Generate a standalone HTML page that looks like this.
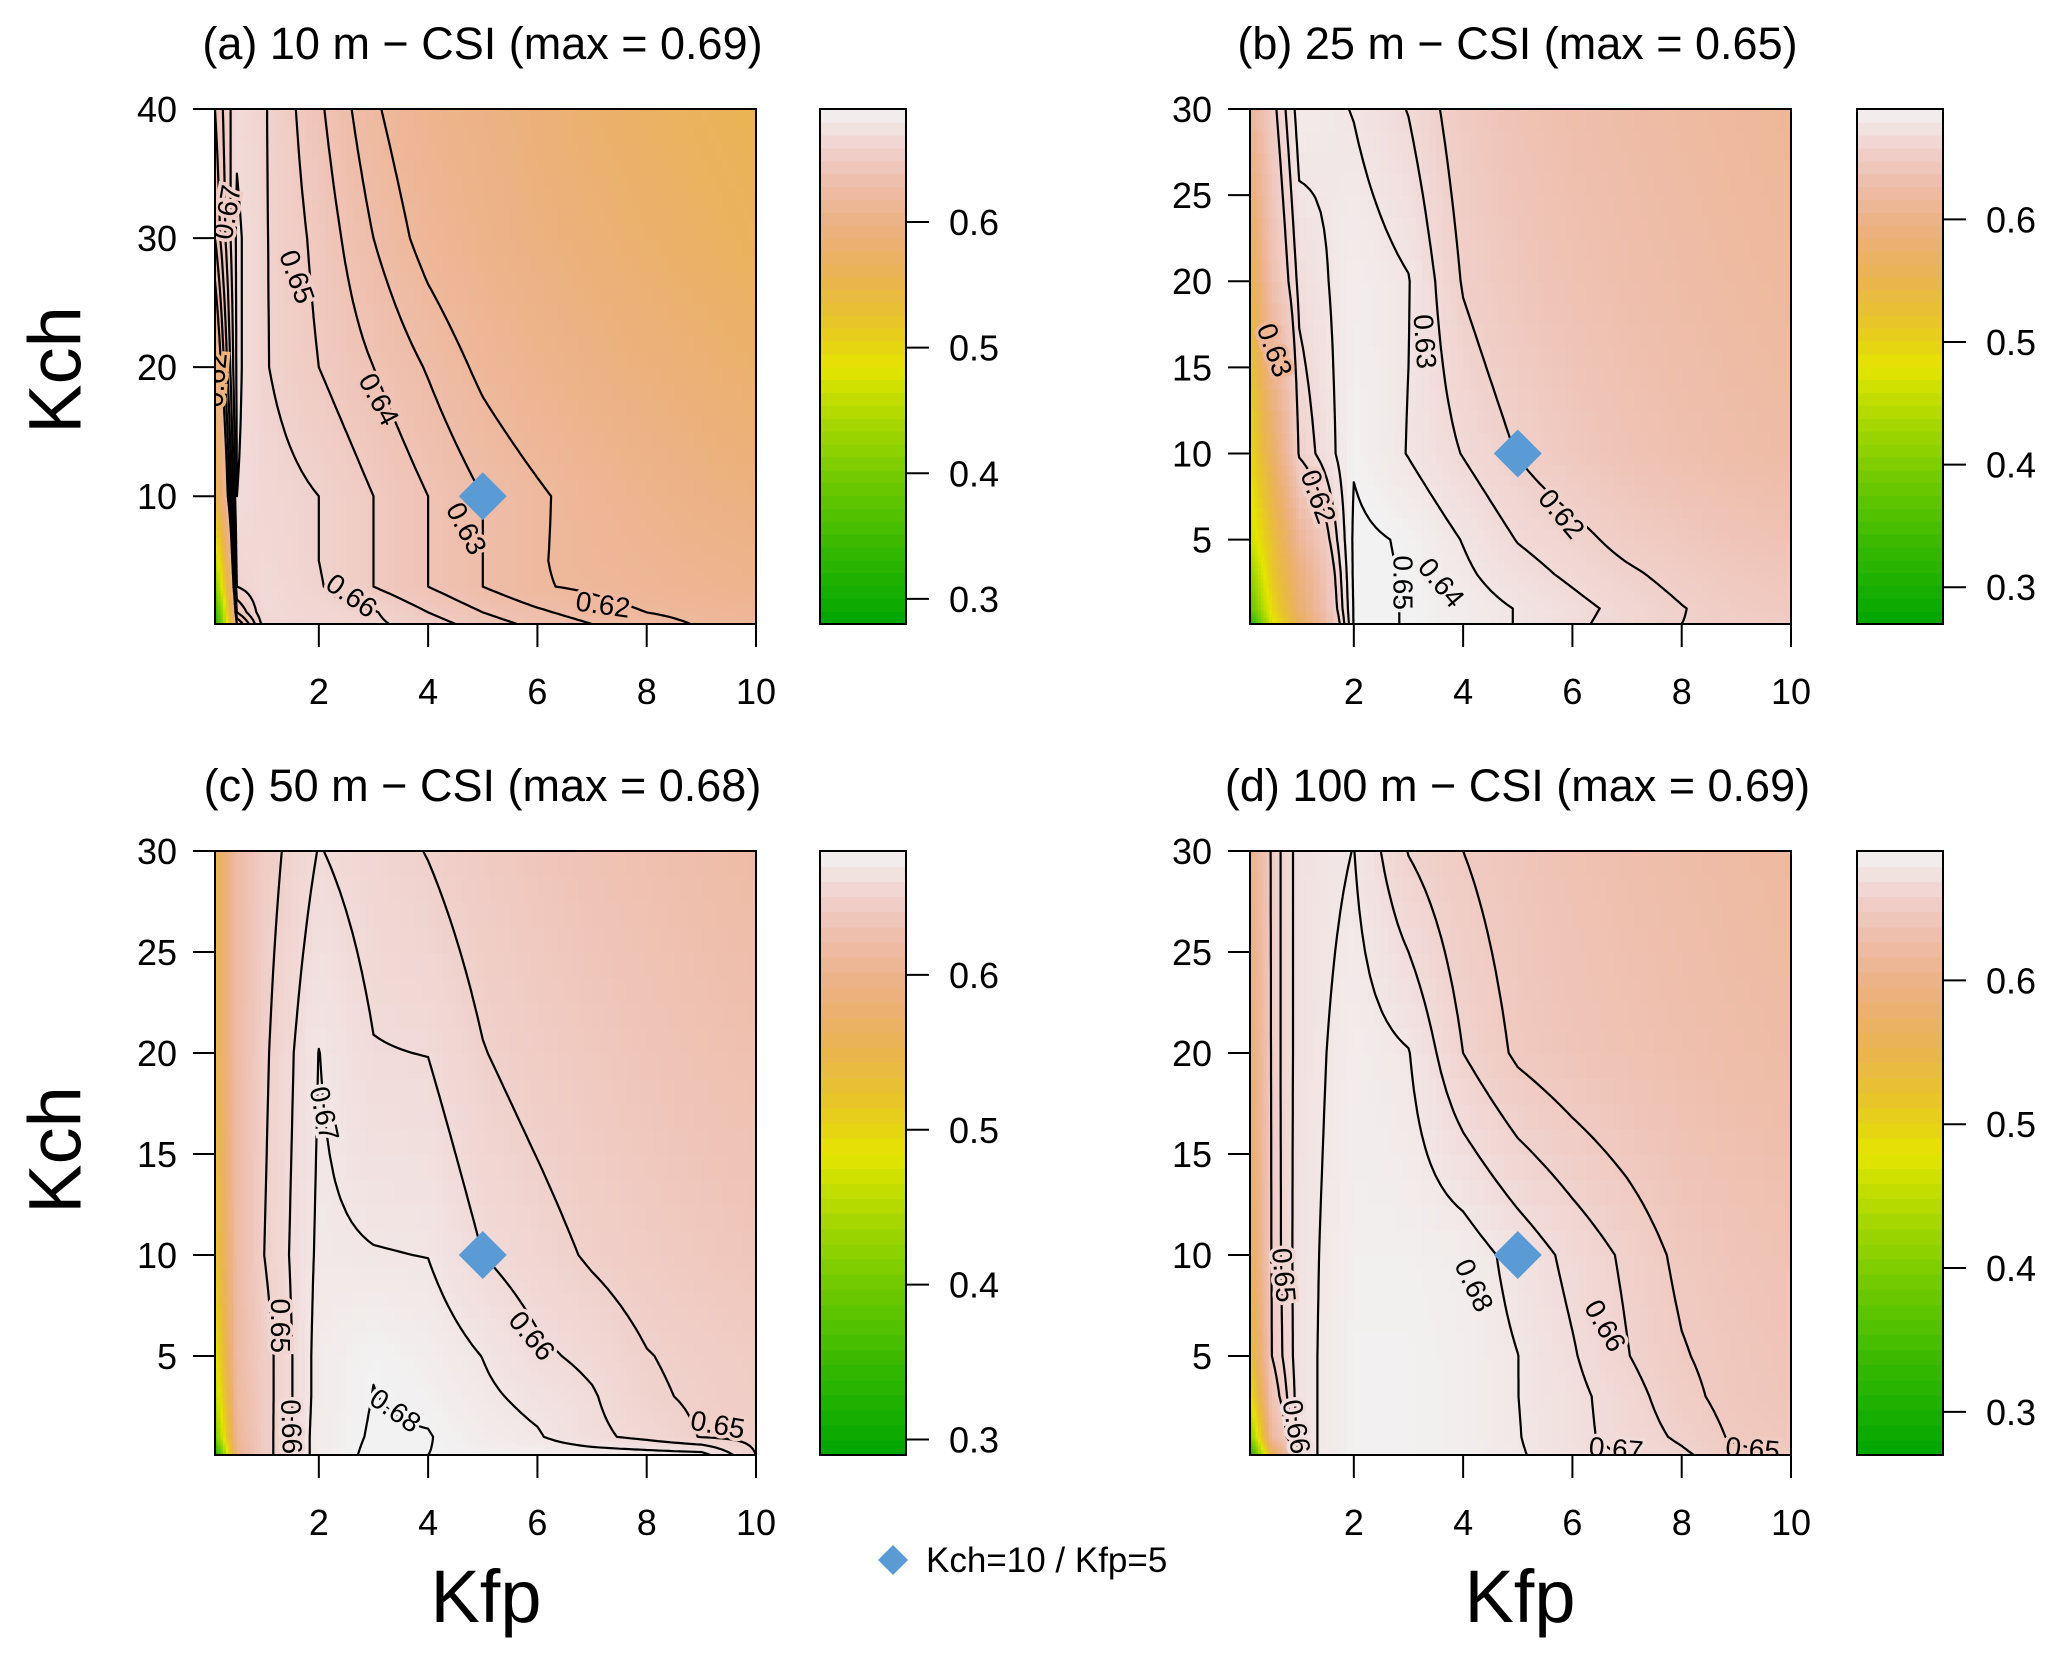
<!DOCTYPE html>
<html><head><meta charset="utf-8"><title>CSI contour panels</title>
<style>
html,body{margin:0;padding:0;background:#fff;}
svg{display:block;font-family:"Liberation Sans",Arial,sans-serif;}
</style></head>
<body>
<svg id="fig" xmlns="http://www.w3.org/2000/svg" width="2067" height="1657" viewBox="0 0 2067 1657">
<rect x="0" y="0" width="2067" height="1657" fill="#ffffff"/>
</svg>
<script>
// ---- data ----
const kfp = [0.1,0.5,1,2,3,4,5,6,7,8,9,10];
const kchA = [0.1,1,3,5,10,20,30,40];
const kchB = [0.1,1,3,5,10,20,30];
const csiA = [
 [0.30,0.62,0.665,0.665,0.662,0.655,0.645,0.637,0.63,0.624,0.619,0.616],
 [0.33,0.64,0.668,0.665,0.661,0.65,0.64,0.632,0.625,0.62,0.617,0.614],
 [0.40,0.66,0.668,0.661,0.65,0.64,0.63,0.621,0.618,0.614,0.61,0.607],
 [0.45,0.665,0.667,0.66,0.65,0.64,0.63,0.621,0.616,0.612,0.608,0.605],
 [0.55,0.67,0.665,0.66,0.65,0.64,0.63,0.622,0.614,0.607,0.60,0.595],
 [0.60,0.672,0.661,0.65,0.64,0.629,0.617,0.608,0.60,0.593,0.586,0.58],
 [0.63,0.672,0.661,0.647,0.63,0.615,0.605,0.596,0.588,0.58,0.573,0.565],
 [0.64,0.668,0.661,0.642,0.622,0.608,0.60,0.59,0.58,0.572,0.565,0.558]
];
const csiB = [
 [0.30,0.45,0.53,0.651,0.6498,0.645,0.6395,0.632,0.626,0.62,0.617,0.615],
 [0.36,0.47,0.55,0.651,0.6498,0.645,0.6395,0.633,0.627,0.6205,0.615,0.612],
 [0.40,0.49,0.56,0.652,0.6495,0.642,0.634,0.628,0.622,0.616,0.611,0.608],
 [0.44,0.50,0.58,0.652,0.649,0.6395,0.6295,0.624,0.616,0.611,0.606,0.603],
 [0.47,0.54,0.622,0.649,0.6395,0.6295,0.6195,0.611,0.604,0.599,0.595,0.592],
 [0.52,0.60,0.633,0.646,0.6405,0.619,0.609,0.602,0.597,0.593,0.589,0.586],
 [0.58,0.615,0.645,0.6395,0.6295,0.613,0.603,0.597,0.593,0.589,0.585,0.582]
];
const csiC = [
 [0.30,0.60,0.645,0.675,0.682,0.68,0.678,0.677,0.676,0.675,0.674,0.65],
 [0.40,0.61,0.645,0.675,0.681,0.6805,0.675,0.671,0.6625,0.657,0.6495,0.647],
 [0.45,0.615,0.645,0.674,0.6802,0.678,0.672,0.667,0.661,0.652,0.648,0.645],
 [0.48,0.62,0.645,0.674,0.6795,0.676,0.6698,0.662,0.6575,0.6505,0.647,0.644],
 [0.52,0.62,0.65,0.672,0.6705,0.6698,0.66,0.6545,0.6485,0.644,0.64,0.637],
 [0.55,0.62,0.648,0.6702,0.6605,0.6598,0.6505,0.645,0.64,0.635,0.631,0.628],
 [0.55,0.62,0.645,0.6605,0.655,0.6495,0.643,0.637,0.632,0.628,0.624,0.62]
];
const csiD = [
 [0.30,0.55,0.676,0.688,0.688,0.686,0.681,0.675,0.669,0.662,0.653,0.648],
 [0.40,0.62,0.676,0.688,0.688,0.686,0.6805,0.673,0.666,0.658,0.648,0.645],
 [0.48,0.64,0.676,0.688,0.688,0.686,0.6801,0.673,0.6645,0.6535,0.6455,0.642],
 [0.52,0.65,0.676,0.688,0.688,0.686,0.6801,0.671,0.6605,0.651,0.645,0.641],
 [0.56,0.652,0.676,0.687,0.687,0.6855,0.6765,0.667,0.658,0.647,0.642,0.638],
 [0.58,0.653,0.675,0.685,0.6805,0.66,0.648,0.642,0.637,0.633,0.629,0.626],
 [0.60,0.653,0.675,0.6802,0.6595,0.65,0.643,0.637,0.632,0.628,0.624,0.62]
];
const levelsA = [0.62,0.63,0.64,0.65,0.66,0.67];
const levelsB = [0.62,0.63,0.64,0.65];
const levelsC = [0.65,0.66,0.67,0.68];
const levelsD = [0.65,0.66,0.67,0.68];
const labelsA = [["0.67",0.32,32,-80],["0.65",1.6,27,70],["0.64",3.1,17.5,62],["0.63",4.7,7.5,62],["0.66",2.6,2.3,35],["0.62",7.2,1.6,8],["0.62",0.1,19,-85]];
const labelsB = [["0.63",0.55,16,70],["0.62",1.35,7.5,70],["0.63",3.3,16.5,86],["0.62",5.8,6.5,50],["0.64",3.6,2.5,50],["0.65",2.9,2.5,90]];
const labelsC = [["0.67",2.1,17,78],["0.65",1.3,6.5,90],["0.66",1.5,1.5,88],["0.66",5.9,6,50],["0.68",3.4,2.3,35],["0.65",9.3,1.6,10]];
const labelsD = [["0.65",0.72,9,85],["0.66",0.95,1.5,80],["0.68",4.2,8.5,65],["0.66",6.6,6.5,60],["0.67",6.8,0.4,5],["0.65",9.3,0.4,5]];
const xTicks = [2,4,6,8,10];
const yTicksA = [10,20,30,40];
const yTicksB = [5,10,15,20,25,30];
const cbTicks = [0.3,0.4,0.5,0.6];
const markerKfp = 5, markerKch = 10;

// ---- layout ----
const panels = [
 {key:'a',kch:kchA,z:csiA,lev:levelsA,lab:labelsA,yt:yTicksA,x0:215,x1:756,y0:109,y1:624,ymax:40,cbx:820,cbr:[0.28,0.69],zmax:0.69,title:"(a) 10 m \u2212 CSI (max = 0.69)"},
 {key:'b',kch:kchB,z:csiB,lev:levelsB,lab:labelsB,yt:yTicksB,x0:1250,x1:1791,y0:109,y1:624,ymax:30,cbx:1857,cbr:[0.27,0.69],zmax:0.65,title:"(b) 25 m \u2212 CSI (max = 0.65)"},
 {key:'c',kch:kchB,z:csiC,lev:levelsC,lab:labelsC,yt:yTicksB,x0:215,x1:756,y0:851,y1:1455,ymax:30,cbx:820,cbr:[0.29,0.68],zmax:0.68,title:"(c) 50 m \u2212 CSI (max = 0.68)"},
 {key:'d',kch:kchB,z:csiD,lev:levelsD,lab:labelsD,yt:yTicksB,x0:1250,x1:1791,y0:851,y1:1455,ymax:30,cbx:1857,cbr:[0.27,0.69],zmax:0.69,title:"(d) 100 m \u2212 CSI (max = 0.69)"}
];
const NS = "http://www.w3.org/2000/svg";
const svg = document.getElementById('fig');
function mk(tag, attrs, parent){const e=document.createElementNS(NS,tag);for(const k in attrs)e.setAttribute(k,attrs[k]);(parent||svg).appendChild(e);return e;}
function terrain(t){
  t=Math.max(0,Math.min(1,t));let h,s,v;
  if(t<=0.5){const u=t/0.5;h=(4-2*u)/12;s=1;v=0.65+0.25*u;}
  else{const u=(t-0.5)/0.5;h=(2-2*u)/12;s=1-u;v=0.9+0.05*u;}
  const i=Math.floor(h*6),f=h*6-i,p=v*(1-s),q=v*(1-f*s),w=v*(1-(1-f)*s);
  let r,g,b;switch(((i%6)+6)%6){case 0:r=v;g=w;b=p;break;case 1:r=q;g=v;b=p;break;case 2:r=p;g=v;b=w;break;case 3:r=p;g=q;b=v;break;case 4:r=w;g=p;b=v;break;default:r=v;g=p;b=q;}
  return `rgb(${Math.round(r*255)},${Math.round(g*255)},${Math.round(b*255)})`;
}

panels.forEach(P=>{
  const X=v=>P.x0+(v-0.1)/(10-0.1)*(P.x1-P.x0);
  const Y=v=>P.y1-(v-0.1)/(P.ymax-0.1)*(P.y1-P.y0);
  const col=v=>terrain((v-P.cbr[0])/(P.zmax-P.cbr[0]));
  const g=mk('g',{});
  
  
  const clip=mk('clipPath',{id:'clip'+P.key},g);
  mk('rect',{x:P.x0,y:P.y0,width:P.x1-P.x0,height:P.y1-P.y0},clip);
  const field=mk('g',{'clip-path':`url(#clip${P.key})`,'shape-rendering':'crispEdges'},g);
  
  
  const n=8;
  for(let j=0;j<P.kch.length-1;j++)for(let i=0;i<kfp.length-1;i++){
    const z00=P.z[j][i],z10=P.z[j][i+1],z01=P.z[j+1][i],z11=P.z[j+1][i+1];
    for(let a=0;a<n;a++)for(let b=0;b<n;b++){
      const u=(a+0.5)/n,w=(b+0.5)/n;
      const val=z00*(1-u)*(1-w)+z10*u*(1-w)+z01*(1-u)*w+z11*u*w;
      const xa=X(kfp[i]+(kfp[i+1]-kfp[i])*a/n),xb=X(kfp[i]+(kfp[i+1]-kfp[i])*(a+1)/n);
      const ya=Y(P.kch[j]+(P.kch[j+1]-P.kch[j])*(b+1)/n),yb=Y(P.kch[j]+(P.kch[j+1]-P.kch[j])*b/n);
      const r=mk('rect',{x:xa.toFixed(2),y:ya.toFixed(2),width:(xb-xa+0.8).toFixed(2),height:(yb-ya+0.8).toFixed(2),fill:col(val)},field);
      
      
    }
  }
  const m=10,gx=[],gy=[],gz=[];
  for(let i=0;i<kfp.length-1;i++)for(let a=0;a<m;a++)gx.push(kfp[i]+(kfp[i+1]-kfp[i])*a/m);gx.push(kfp[kfp.length-1]);
  for(let j=0;j<P.kch.length-1;j++)for(let b=0;b<m;b++)gy.push(P.kch[j]+(P.kch[j+1]-P.kch[j])*b/m);gy.push(P.kch[P.kch.length-1]);
  const interp=(xv,yv)=>{let i=0;while(i<kfp.length-2&&xv>kfp[i+1])i++;let j=0;while(j<P.kch.length-2&&yv>P.kch[j+1])j++;
    const u=(xv-kfp[i])/(kfp[i+1]-kfp[i]),w=(yv-P.kch[j])/(P.kch[j+1]-P.kch[j]);
    return P.z[j][i]*(1-u)*(1-w)+P.z[j][i+1]*u*(1-w)+P.z[j+1][i]*(1-u)*w+P.z[j+1][i+1]*u*w;};
  for(let j=0;j<gy.length;j++){gz.push([]);for(let i=0;i<gx.length;i++)gz[j].push(interp(gx[i],gy[j]));}
  const cg=mk('g',{'clip-path':`url(#clip${P.key})`},g);
  P.lev.forEach(L=>{
    const lv=L+1e-6;let d='';
    const pt=(x1,y1,v1,x2,y2,v2)=>{const t=(lv-v1)/(v2-v1);return [X(x1+(x2-x1)*t),Y(y1+(y2-y1)*t)];};
    for(let j=0;j<gy.length-1;j++)for(let i=0;i<gx.length-1;i++){
      const v0=gz[j][i],v1=gz[j][i+1],v2=gz[j+1][i+1],v3=gz[j+1][i];
      const c=(v0>lv?1:0)|(v1>lv?2:0)|(v2>lv?4:0)|(v3>lv?8:0);
      if(c===0||c===15)continue;
      const eB=()=>pt(gx[i],gy[j],v0,gx[i+1],gy[j],v1),eR=()=>pt(gx[i+1],gy[j],v1,gx[i+1],gy[j+1],v2),
            eT=()=>pt(gx[i],gy[j+1],v3,gx[i+1],gy[j+1],v2),eL=()=>pt(gx[i],gy[j],v0,gx[i],gy[j+1],v3);
      const segs=[];
      switch(c){case 1:case 14:segs.push([eL(),eB()]);break;case 2:case 13:segs.push([eB(),eR()]);break;
        case 3:case 12:segs.push([eL(),eR()]);break;case 4:case 11:segs.push([eR(),eT()]);break;
        case 6:case 9:segs.push([eB(),eT()]);break;case 7:case 8:segs.push([eL(),eT()]);break;
        case 5:segs.push([eL(),eT()],[eB(),eR()]);break;case 10:segs.push([eL(),eB()],[eR(),eT()]);break;}
      segs.forEach(s=>{d+=`M${s[0][0].toFixed(1)} ${s[0][1].toFixed(1)}L${s[1][0].toFixed(1)} ${s[1][1].toFixed(1)}`;});
    }
    const p=mk('path',{d:d,fill:'none',stroke:'#000','stroke-width':2.2,'stroke-linecap':'round'},cg);
    
    
  });
  P.lab.forEach(l=>{
    const x=X(l[1]),y=Y(l[2]);
    const t=mk('text',{x:x,y:y,'font-size':28,'text-anchor':'middle','dominant-baseline':'central',transform:`rotate(${l[3]} ${x} ${y})`,fill:'#000',stroke:col(interp(l[1],l[2])),'stroke-width':7,'paint-order':'stroke'},cg);
    t.textContent=l[0];
    
    
  });
  const mx=X(markerKfp),my=Y(markerKch);
  const dm=mk('polygon',{points:`${mx},${my-24} ${mx+24},${my} ${mx},${my+24} ${mx-24},${my}`,fill:'#5B9BD5'},g);
  
  
  const fr=mk('rect',{x:P.x0,y:P.y0,width:P.x1-P.x0,height:P.y1-P.y0,fill:'none',stroke:'#000','stroke-width':2},g);
  
  
  xTicks.forEach(v=>{
    const x=X(v);
    const tk=mk('line',{x1:x,x2:x,y1:P.y1,y2:P.y1+23,stroke:'#000','stroke-width':2},g);
    
    
    const tl=mk('text',{x:x,y:P.y1+80,'font-size':36,'text-anchor':'middle',fill:'#000'},g);
    tl.textContent=v;
    
    
  });
  P.yt.forEach(v=>{
    const y=Y(v);
    const tk=mk('line',{x1:P.x0-22,x2:P.x0,y1:y,y2:y,stroke:'#000','stroke-width':2},g);
    
    
    const tl=mk('text',{x:P.x0-38,y:y+13,'font-size':36,'text-anchor':'end',fill:'#000'},g);
    tl.textContent=v;
    
    
  });
  const tt=mk('text',{x:(P.x0+P.x1)/2-3,y:P.y0-50,'font-size':45,'text-anchor':'middle',fill:'#000'},g);
  tt.textContent=P.title;
  
  
  const cb=mk('g',{'shape-rendering':'crispEdges'},g);
  
  
  const nb=40,h=P.y1-P.y0;
  for(let k=0;k<nb;k++){
    const r=mk('rect',{x:P.cbx,y:(P.y1-(k+1)*h/nb).toFixed(2),width:86,height:(h/nb+0.8).toFixed(2),fill:terrain((k+0.5)/nb)},cb);
    
    
  }
  mk('rect',{x:P.cbx,y:P.y0,width:86,height:h,fill:'none',stroke:'#000','stroke-width':2},g);
  const CY=v=>P.y1-(v-P.cbr[0])/(P.cbr[1]-P.cbr[0])*h;
  cbTicks.forEach(v=>{
    const y=CY(v);
    const tk=mk('line',{x1:P.cbx+86,x2:P.cbx+109,y1:y,y2:y,stroke:'#000','stroke-width':2},g);
    
    
    const tl=mk('text',{x:P.cbx+129,y:y+13,'font-size':36,fill:'#000'},g);
    tl.textContent=v.toFixed(1);
    
    
  });
});
[[55,370],[55,1150]].forEach(p=>{
  const t=mk('text',{x:p[0],y:p[1],'font-size':74,'text-anchor':'middle','dominant-baseline':'central',transform:`rotate(-90 ${p[0]} ${p[1]})`,fill:'#000'});
  t.textContent='Kch';
  
  
});
[[486,1622],[1520,1622]].forEach(p=>{
  const t=mk('text',{x:p[0],y:p[1],'font-size':74,'text-anchor':'middle',fill:'#000'});
  t.textContent='Kfp';
  
  
});
const lg=mk('g',{});


const ld=mk('polygon',{points:'893,1545 908,1560 893,1575 878,1560',fill:'#5B9BD5'},lg);


const lt=mk('text',{x:926,y:1572,'font-size':35,fill:'#000'},lg);
lt.textContent='Kch=10 / Kfp=5';


</script>
</body></html>
